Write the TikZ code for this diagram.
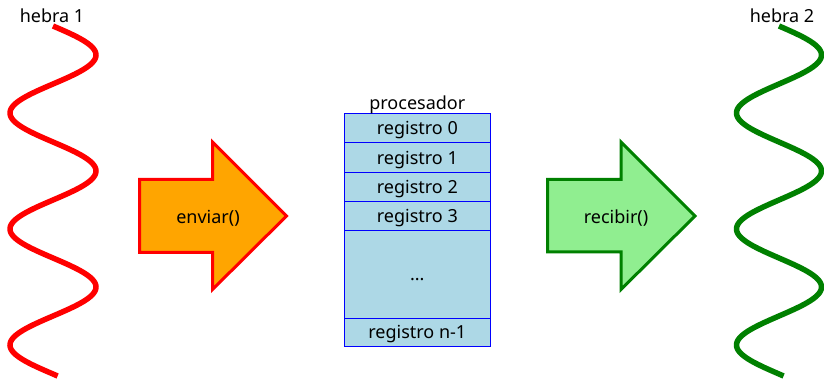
\documentclass[tikz,border=0pt]{standalone}
\usepackage{fontspec}
\setmainfont{Noto Sans}
\begin{document}
\begin{tikzpicture}[x=1pt,y=-1pt,
  lbl/.style={font=\fontsize{18}{21}\selectfont, inner sep=0pt},
  reg/.style={draw=blue, fill=lightblue, line width=1pt, minimum width=146pt,
              inner sep=0pt, outer sep=0pt, text height=15pt, text depth=2pt,
              font=\fontsize{18}{21}\selectfont, anchor=north},
  wave/.style={line width=5.5pt},
  bigarrow/.style={line width=3pt, line join=miter}]
\definecolor{lightblue}{HTML}{ADD8E6}
\definecolor{orangefill}{HTML}{FFA500}
\definecolor{lightgreen}{HTML}{90EE90}
\definecolor{darkgreen}{HTML}{008000}
\useasboundingbox (0,0) rectangle (824,379);

% threads
\draw[wave, red] plot[smooth, domain=0:350, samples=240]
  ({53+43*sin(3.1034*\x)}, {26+\x});
\draw[wave, darkgreen] plot[smooth, domain=0:350, samples=240]
  ({779+42.5*sin(3.1034*\x)}, {26+\x});
\node[lbl, anchor=base] (h1) at (52,22.5) {hebra 1};
\node[lbl, anchor=base] (h2) at (782,22.5) {hebra 2};

% send arrow
\draw[bigarrow, draw=red, fill=orangefill]
  (139.5,179.5) -- (212.5,179.5) -- (212.5,142) -- (286.5,216) -- (212.5,289.5)
  -- (212.5,252.5) -- (139.5,252.5) -- cycle;
\node[lbl] (send) at (208,218) {enviar()};

% receive arrow
\draw[bigarrow, draw=darkgreen, fill=lightgreen]
  (547.5,179.5) -- (621,179.5) -- (621,142) -- (695,216) -- (621,289.5)
  -- (621,252) -- (547.5,252) -- cycle;
\node[lbl] (recv) at (616,218) {recibir()};

% processor registers
\node[reg, minimum height=29pt] (r0) at (417.3,114) {registro 0};
\node[reg, minimum height=29.2pt] (r1) at (r0.south) {registro 1};
\node[reg, minimum height=29pt] (r2) at (r1.south) {registro 2};
\node[reg, minimum height=29pt] (r3) at (r2.south) {registro 3};
\node[reg, minimum height=88pt] (rdots) at (r3.south) {...};
\node[reg, minimum height=28.4pt] (rn) at (rdots.south) {registro n-1};
\node[lbl, anchor=base] (proc) at ([yshift=4pt]r0.north) {procesador};
\end{tikzpicture}
\end{document}
